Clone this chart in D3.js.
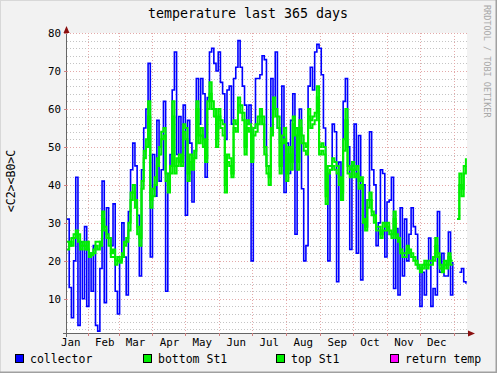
<!DOCTYPE html>
<html><head><meta charset="utf-8">
<script src="https://cdn.jsdelivr.net/npm/d3@7"></script>
<style>
body{margin:0;background:#fff}
svg{display:block}
text{font-family:"DejaVu Sans Mono",monospace}
</style>
</head><body>
<svg id="chart" width="497" height="373"></svg>
<script>
// ---- data (one sample every 2 days, starting 13 Jan) ----
const startDate = new Date(2013, 0, 13);
const stepDays = 2;
const spanDays = 365;

const collector = [
31,13,5,20,42,3,25,10,29,8,22,12,24,3,1.5,18,41,9,34,26,24,35,12,6,20,30,21,11,33,44,51,
45,32,16,44,55,60,72,21,48,37,57,41,44,62,12,43,48,65,75,48,58,46,61,32,57,51,35.5,47,68,56,
68,64,42,63,75,76,72,70,75,67,64,52,65,66,56,68,71,78,71,66,61,56,61,20,55,68,68,69,74,73,45,
45,68,60,75,55,51,66,38,51,43,57,64,27,53,60,39,20,24,66,71,65,75,77,76,69,55,39,20,44,56,54,
14.5,46,36,62,68,50,23,45,56,22,53,15,40,29,36,54,44,40,24,30,44,43,21,35.5,36,42,12.7,28.5,11,34,16,
31,20,27,34,29,27,18,8,17,11,20,26,8,12.7,11,33,17,22,16,16,27.6,11,19.7,null,null,17,18,14.5,14
];

const bottomSt1 = [
23,25,24,26,27,25,23,24,24,23,21,22,23,24,23,25,31,28,26,24,21,21,19,21,20,21,24,25,30,36,38,
34,27,26,39,47,52,58,34,39,40,45,50,52,53,43,38,43,58,43,45,48,45,54,52,41,46,44,49,60,51,
53,50,46,60,64,60,58,50,58,55,53,38,46,45,42,55,54,61,59,57,48,55,54,46,53,54,56,58,56,48,43,
40,53,60,58,55,43,51,52,41,48,44,56,53,44,55,51,49,48,58,55,56,57,63,48,49,48,35,43,44,45,44,
43,40,36,49,57,43,42,44,42,43,39,40,30,28,34,36,32,30,28,28,26,28,28,29,27,26,31,26,25,22,21,
21,23,22,21,20,19,18,17,18,19,18,19,19,20,24,21,18,17,19,18,21,19,19,null,31,40,37,43,45
];

const topSt1 = [
25,24,26,27,28,27,24,25,23,25,22,21.5,22,25,25,24,33,29,27,26,22,23,20,20,19.5,22,25,26,28,38,40,
36,29,24,41,49,50,62,36,37,42,47,48,54,55,41,40,45,62,45,47,46,47,56,55,43,48,46,47,62,53,
55,52,47,62,67,62,60,52,60,57,56,40,48,47,43,57,56,63,61,59,50,57,56,47,55,56,58,60,58,50,45,
42,55,63,60,58,45,53,55,43,50,46,58,55,46,57,53,51,50,60,57,58,59,66,50,51,50,37,45,45,47,46,
45,42,38,52,60,45,44,46,44,45,41,42,31,29,36,38,33,32,29,29,27,30,29,30,28,27,33,27,26,23,22,
22,24,23,22,21,20,19,18,19,20,19,20,20,21,26,22,19,18,20,19,22,20,20,null,31,43,39,45,47
];

const returnTemp = [];

const seriesNames  = ["collector", "bottom St1", "top St1", "return temp"];
const seriesColors = ["#0000ff", "#00ee00", "#00ee00", "#ff00ff"];
const yTickValues  = [10, 20, 30, 40, 50, 60, 70, 80];
const monthNames   = ["Jan","Feb","Mar","Apr","May","Jun","Jul","Aug","Sep","Oct","Nov","Dec"];

// ---- layout ----
const W = 497, H = 373;
const PL = 67, PR = 467, PT = 33, PB = 333;
const svg = d3.select("#chart");

const endDate = d3.timeDay.offset(startDate, spanDays);
const x = d3.scaleTime().domain([startDate, endDate]).range([PL, PR]);
const y = d3.scaleLinear().domain([1, 80]).range([PB, PT]);

// background + frame
svg.append("rect").attr("width", W).attr("height", H).attr("fill", "#f2f2f2");
svg.append("path").attr("d", `M0,${H}V0H${W}`).attr("stroke", "#d8d8d8").attr("stroke-width", 2).attr("fill", "none");
svg.append("path").attr("d", `M${W},0V${H}H0`).attr("stroke", "#a0a0a0").attr("stroke-width", 3).attr("fill", "none");
svg.append("rect").attr("x", PL).attr("y", PT).attr("width", PR - PL).attr("height", PB - PT).attr("fill", "#fff");

// grid
const g = svg.append("g").attr("shape-rendering", "crispEdges");
const minorVals = d3.range(2, 80, 2).filter(v => v % 10 !== 0);
g.selectAll(".mh").data(minorVals).enter().append("line")
  .attr("x1", PL).attr("x2", PR)
  .attr("y1", d => Math.round(y(d)) + 0.5).attr("y2", d => Math.round(y(d)) + 0.5)
  .attr("stroke", "#c4c4c4").attr("stroke-dasharray", "1,2");
const months = d3.timeMonth.range(d3.timeMonth.ceil(startDate), endDate);
g.selectAll(".mv").data(months).enter().append("line")
  .attr("x1", d => Math.round(x(d)) + 0.5).attr("x2", d => Math.round(x(d)) + 0.5)
  .attr("y1", PT).attr("y2", PB)
  .attr("stroke", "#e3a9a9").attr("stroke-dasharray", "1,2");
g.selectAll(".Mh").data(yTickValues).enter().append("line")
  .attr("x1", PL).attr("x2", PR)
  .attr("y1", d => Math.round(y(d)) + 0.5).attr("y2", d => Math.round(y(d)) + 0.5)
  .attr("stroke", "#e3a9a9").attr("stroke-dasharray", "1,2");

// data lines
const dates = d3.range(collector.length).map(i => d3.timeDay.offset(startDate, i * stepDays));
function drawSeries(vals, color, width) {
  const pts = vals.map((v, i) => ({ d: dates[i], v }));
  const line = d3.line()
    .defined(p => p.v !== null && p.v !== undefined)
    .x(p => x(p.d)).y(p => y(p.v))
    .curve(d3.curveStepAfter);
  svg.append("path").datum(pts).attr("d", line)
    .attr("fill", "none").attr("stroke", color).attr("stroke-width", width)
    .attr("stroke-linejoin", "miter");
}
drawSeries(collector, seriesColors[0], 1.6);
drawSeries(bottomSt1, seriesColors[1], 2);
drawSeries(topSt1, seriesColors[2], 2);
drawSeries(returnTemp, seriesColors[3], 2);

// axes
const ax = svg.append("g").attr("shape-rendering", "crispEdges");
ax.append("line").attr("x1", 63).attr("x2", 470).attr("y1", PB + 0.5).attr("y2", PB + 0.5).attr("stroke", "#666");
ax.append("line").attr("x1", PL - 0.5).attr("x2", PL - 0.5).attr("y1", PB + 4).attr("y2", 29).attr("stroke", "#666");
ax.selectAll(".xt").data(months).enter().append("line")
  .attr("x1", d => Math.round(x(d)) + 0.5).attr("x2", d => Math.round(x(d)) + 0.5)
  .attr("y1", PB).attr("y2", PB + 3).attr("stroke", "#d08080");
ax.selectAll(".yt").data(yTickValues).enter().append("line")
  .attr("x1", PL - 3).attr("x2", PL)
  .attr("y1", d => Math.round(y(d)) + 0.5).attr("y2", d => Math.round(y(d)) + 0.5)
  .attr("stroke", "#d08080");
svg.append("path").attr("d", `M${PL - 3.5},33L${PL + 2.5},33L${PL - 0.5},26Z`).attr("fill", "#8b1010");
svg.append("path").attr("d", `M468,${PB - 2.5}L468,${PB + 3.5}L475,${PB + 0.5}Z`).attr("fill", "#8b1010");

// tick labels
svg.selectAll(".yl").data(yTickValues).enter().append("text")
  .attr("x", 61).attr("y", d => y(d) + 4)
  .attr("text-anchor", "end").attr("font-size", "10.8px").text(d => d);
const labelMonths = d3.timeMonth.range(d3.timeMonth.floor(startDate), endDate)
  .filter(d => x(d3.timeHour.offset(d, 372)) > PL && x(d3.timeHour.offset(d, 372)) < PR);
svg.selectAll(".xl").data(labelMonths).enter().append("text")
  .attr("x", d => x(d3.timeHour.offset(d, 372)))
  .attr("y", 345.5).attr("text-anchor", "middle").attr("font-size", "10.8px")
  .text(d => monthNames[d.getMonth()]);

// title, axis label, watermark
svg.append("text").attr("x", 248).attr("y", 17.5).attr("text-anchor", "middle")
  .attr("font-size", "13.3px").text("temperature last 365 days");
svg.append("text").attr("transform", "translate(14.5,181) rotate(-90)")
  .attr("text-anchor", "middle").attr("font-size", "11.5px").text("<C2><B0>C");
svg.append("text").attr("transform", "translate(484,5) rotate(90)")
  .attr("font-size", "8.5px").attr("fill", "#a8a8a8").text("RRDTOOL / TOBI OETIKER");

// legend
const legX = [15, 143, 276, 390];
seriesNames.forEach((name, i) => {
  svg.append("rect").attr("x", legX[i] + 0.5).attr("y", 354.5).attr("width", 8).attr("height", 8)
    .attr("fill", seriesColors[i]).attr("stroke", "#000").attr("shape-rendering", "crispEdges");
  svg.append("text").attr("x", legX[i] + 15).attr("y", 362.5).attr("font-size", "11.5px").text(name);
});
</script>
</body></html>
